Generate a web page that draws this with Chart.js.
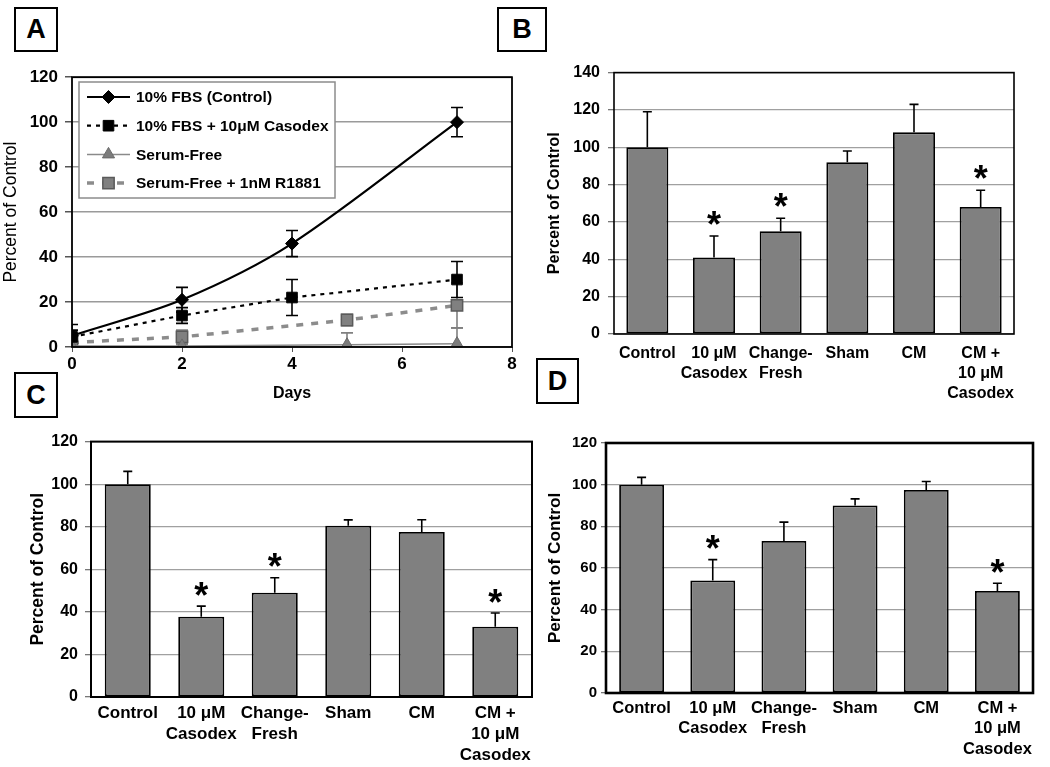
<!DOCTYPE html>
<html><head><meta charset="utf-8">
<script src="https://cdn.jsdelivr.net/npm/chart.js@4.4.1/dist/chart.umd.min.js"></script>
<style>
html,body{margin:0;padding:0;background:#fff;width:1050px;height:767px;overflow:hidden;font-family:"Liberation Sans",Arial,sans-serif}
canvas{position:absolute}
.lbl{position:absolute;z-index:3;border:2px solid #000;box-sizing:border-box;font:bold 27px "Liberation Sans",Arial,sans-serif;display:flex;align-items:center;justify-content:center;background:#fff;color:#000}
</style></head><body>
<div class="lbl" style="left:14px;top:7px;width:44px;height:45px">A</div>
<div class="lbl" style="left:497px;top:7px;width:50px;height:45px">B</div>
<div class="lbl" style="left:14px;top:372px;width:44px;height:46px">C</div>
<div class="lbl" style="left:536px;top:358px;width:43px;height:46px">D</div>
<canvas id="cA" width="530" height="350" style="left:0;top:60px"></canvas>
<canvas id="cB" width="530" height="355" style="left:520px;top:55px"></canvas>
<canvas id="cC" width="545" height="342" style="left:0;top:425px"></canvas>
<canvas id="cD" width="530" height="342" style="left:520px;top:425px"></canvas>
<script>
// ---------- Panel A data ----------
const daysMain = [0, 2, 4, 7];
const daysSF = [0, 2, 5, 7];
const ctrlA = [5, 21, 46, 100];
const ctrlAErr = [5, 5.5, 5.8, 6.5];
const casA = [4.5, 14, 22, 30];
const casAErr = [3, 3.5, 8, 8];
const sfA = [0.5, 0.5, 1, 1.5];
const sfAErr = [0.5, 0.5, 5.3, 7];
const r1881A = [2, 4.5, 12, 18.5];
const r1881AErr = [1.5, 3, 2.5, 10];
const seriesNamesA = ['10% FBS (Control)', '10% FBS + 10\u03bcM Casodex', 'Serum-Free', 'Serum-Free + 1nM R1881'];

// ---------- Bar panels ----------
const categoryLines = [['Control'], ['10 \u03bcM', 'Casodex'], ['Change-', 'Fresh'], ['Sham'], ['CM'], ['CM +', '10 \u03bcM', 'Casodex']];
const valuesB = [100, 41, 55, 92, 108, 68];
const errorsB = [19, 11.5, 7, 6, 15, 9];
const starsB = [false, true, true, false, false, true];
const valuesC = [100, 37.7, 49, 80.5, 77.5, 33];
const errorsC = [6, 5, 7, 2.7, 5.8, 6.5];
const starsC = [false, true, true, false, false, true];
const valuesD = [100, 54, 73, 90, 97.5, 49];
const errorsD = [3.5, 10, 9, 3.2, 4, 3.7];
const starsD = [false, true, false, false, false, true];

const FONT = '"Liberation Sans", Arial, sans-serif';
Chart.defaults.font.family = FONT;
Chart.defaults.color = '#000';

function pts(xs, ys) { return xs.map((x, i) => ({x: x, y: ys[i]})); }

function marker(ctx, style, r, x, y, fill, stroke, bw) {
  ctx.save();
  ctx.fillStyle = fill; ctx.strokeStyle = stroke; ctx.lineWidth = bw; ctx.setLineDash([]);
  if (Chart.helpers && Chart.helpers.drawPoint) {
    Chart.helpers.drawPoint(ctx, {pointStyle: style, radius: r, borderWidth: bw, rotation: 0}, x, y);
  } else {
    ctx.beginPath();
    if (style === 'rectRot') { ctx.moveTo(x - r, y); ctx.lineTo(x, y - r); ctx.lineTo(x + r, y); ctx.lineTo(x, y + r); }
    else if (style === 'triangle') { ctx.moveTo(x - r, y + r * 0.6); ctx.lineTo(x, y - r); ctx.lineTo(x + r, y + r * 0.6); }
    else { const s = r * Math.SQRT1_2; ctx.rect(x - s, y - s, 2 * s, 2 * s); }
    ctx.closePath(); ctx.fill(); if (bw > 0) ctx.stroke();
  }
  ctx.restore();
}

function drawErr(chart, mode, capHalf) {
  const ctx = chart.ctx, ys = chart.scales.y, ca = chart.chartArea;
  const dss = chart.data.datasets;
  for (let i = dss.length - 1; i >= 0; i--) {
    const ds = dss[i];
    if (!ds.errors) continue;
    const meta = chart.getDatasetMeta(i);
    ctx.save();
    ctx.beginPath(); ctx.rect(ca.left, ca.top - 2, ca.right - ca.left, ca.bottom - ca.top + 2); ctx.clip();
    ctx.strokeStyle = ds.errColor || '#000'; ctx.lineWidth = 1.6; ctx.setLineDash([]);
    meta.data.forEach((el, j) => {
      const raw = ds.data[j];
      const v = (typeof raw === 'object') ? raw.y : raw;
      const e = ds.errors[j];
      const x = el.x;
      const yHi = ys.getPixelForValue(v + e);
      const yLo = mode === 'both' ? ys.getPixelForValue(v - e) : ys.getPixelForValue(v);
      ctx.beginPath();
      ctx.moveTo(x, yLo); ctx.lineTo(x, yHi);
      ctx.moveTo(x - capHalf, yHi); ctx.lineTo(x + capHalf, yHi);
      if (mode === 'both') { ctx.moveTo(x - capHalf, yLo); ctx.lineTo(x + capHalf, yLo); }
      ctx.stroke();
    });
    ctx.restore();
  }
}

const deco = {
  id: 'deco',
  beforeDatasetsDraw(chart, args, o) {
    if (o.errMode === 'both') drawErr(chart, 'both', o.capHalf);
  },
  afterDatasetsDraw(chart, args, o) {
    const ctx = chart.ctx, ca = chart.chartArea, ys = chart.scales.y;
    if (o.errMode === 'up') drawErr(chart, 'up', o.capHalf);
    // asterisks
    chart.data.datasets.forEach((ds, i) => {
      if (!ds.stars) return;
      const meta = chart.getDatasetMeta(i);
      ctx.save();
      ctx.fillStyle = '#000'; ctx.font = 'bold ' + o.starSize + 'px ' + FONT;
      ctx.textAlign = 'center'; ctx.textBaseline = 'alphabetic';
      meta.data.forEach((el, j) => {
        if (!ds.stars[j]) return;
        const top = ys.getPixelForValue(ds.data[j] + ds.errors[j]);
        ctx.fillText('*', el.x, top - o.starGap + 0.6 * o.starSize);
      });
      ctx.restore();
    });
    // frame
    ctx.save();
    ctx.strokeStyle = '#000'; ctx.lineWidth = o.frame; ctx.setLineDash([]);
    ctx.strokeRect(ca.left, ca.top, ca.right - ca.left, ca.bottom - ca.top);
    ctx.restore();
    // legend (panel A)
    if (o.legend) {
      const L = o.legend;
      ctx.save();
      ctx.fillStyle = '#fff'; ctx.fillRect(L.x, L.y, L.w, L.h);
      ctx.strokeStyle = '#8c8c8c'; ctx.lineWidth = 1.5; ctx.strokeRect(L.x, L.y, L.w, L.h);
      chart.data.datasets.forEach((ds, i) => {
        const cy = L.y + L.row0 + i * L.rowH;
        ctx.save();
        ctx.strokeStyle = ds.borderColor; ctx.lineWidth = ds.borderWidth; ctx.setLineDash(ds.borderDash || []);
        ctx.beginPath(); ctx.moveTo(L.x + L.ls, cy); ctx.lineTo(L.x + L.le, cy); ctx.stroke();
        ctx.restore();
        marker(ctx, ds.pointStyle, ds.pointRadius, L.x + L.mx, cy, ds.backgroundColor, ds.pointBorderColor || ds.borderColor, ds.pointBorderWidth || 1);
        ctx.fillStyle = '#000'; ctx.font = 'bold ' + L.font + 'px ' + FONT;
        ctx.textAlign = 'left'; ctx.textBaseline = 'middle';
        ctx.fillText(ds.label, L.x + L.tx, cy + 1);
      });
      ctx.restore();
    }
  }
};
Chart.register(deco);

// ---------- Panel A ----------
new Chart(document.getElementById('cA'), {
  type: 'line',
  data: {
    datasets: [
      {label: seriesNamesA[0], data: pts(daysMain, ctrlA), errors: ctrlAErr, errColor: '#000',
       borderColor: '#000', backgroundColor: '#000', borderWidth: 2.2, pointStyle: 'rectRot', pointRadius: 6.5,
       pointBorderWidth: 1, tension: 0.3},
      {label: seriesNamesA[1], data: pts(daysMain, casA), errors: casAErr, errColor: '#000',
       borderColor: '#000', backgroundColor: '#000', borderWidth: 2.2, borderDash: [4, 5], pointStyle: 'rect', pointRadius: 7.5,
       pointBorderWidth: 1, tension: 0},
      {label: seriesNamesA[2], data: pts(daysSF, sfA), errors: sfAErr, errColor: '#808080',
       borderColor: '#8a8a8a', backgroundColor: '#7c7c7c', pointBorderColor: '#6a6a6a', borderWidth: 1.5, pointStyle: 'triangle', pointRadius: 7,
       pointBorderWidth: 1, tension: 0},
      {label: seriesNamesA[3], data: pts(daysSF, r1881A), errors: r1881AErr, errColor: '#808080',
       borderColor: '#8c8c8c', backgroundColor: '#808080', pointBorderColor: '#5a5a5a', borderWidth: 3.5, borderDash: [7, 8],
       pointStyle: 'rect', pointRadius: 8, pointBorderWidth: 1.5, tension: 0}
    ]
  },
  options: {
    responsive: false, animation: false,
    layout: {padding: {left: 0, right: 18, top: 17, bottom: 0}},
    plugins: {
      legend: {display: false}, tooltip: {enabled: false},
      deco: {errMode: 'both', capHalf: 6, frame: 1.8, starSize: 30, starGap: 19,
             legend: {x: 79, y: 22, w: 256, h: 116, row0: 15, rowH: 28.7, ls: 8, le: 51, mx: 29.5, tx: 57, font: 15.5}}
    },
    scales: {
      x: {type: 'linear', min: 0, max: 8,
          ticks: {stepSize: 2, font: {size: 17, weight: 'bold'}, padding: 2, color: '#000'},
          grid: {drawOnChartArea: false, drawTicks: true, tickLength: 5, tickColor: '#555'},
          border: {display: false},
          title: {display: true, text: 'Days', font: {size: 16, weight: 'bold'}, padding: {top: 0, bottom: 7}},
          afterFit: s => { s.height = 63; }},
      y: {min: 0, max: 120,
          ticks: {stepSize: 20, font: {size: 17, weight: 'bold'}, padding: 7, color: '#000'},
          grid: {color: '#9a9a9a', lineWidth: 1.5, tickLength: 7, tickColor: '#555'},
          border: {display: false},
          title: {display: true, text: 'Percent of Control', font: {size: 17.5, weight: 'normal'}, padding: {top: 0.5, bottom: 0}},
          afterFit: s => { s.width = 72; }}
    }
  }
});

// ---------- Bar panels ----------
function barChart(id, values, errors, stars, o) {
  return new Chart(document.getElementById(id), {
    type: 'bar',
    data: {
      labels: categoryLines,
      datasets: [{data: values, errors: errors, stars: stars, backgroundColor: '#808080', borderColor: '#000',
                  borderWidth: 1.8, borderSkipped: false, barPercentage: o.bp, categoryPercentage: 1}]
    },
    options: {
      responsive: false, animation: false,
      layout: {padding: o.pad},
      plugins: {legend: {display: false}, tooltip: {enabled: false},
                deco: {errMode: 'up', capHalf: 4.5, frame: o.frame, starSize: 36, starGap: o.starGap}},
      scales: {
        x: {grid: {display: false, drawTicks: false}, border: {display: false},
            ticks: {font: {size: o.xf, weight: 'bold', lineHeight: o.xlh}, padding: o.xpad, color: '#000', maxRotation: 0, autoSkip: false},
            afterFit: s => { s.height = o.xh; }},
        y: {min: 0, max: o.ymax,
            ticks: {stepSize: 20, font: {size: o.yf, weight: 'bold'}, padding: o.ypad, color: '#000'},
            grid: {color: '#a0a0a0', lineWidth: 1.3, tickLength: o.tl, tickColor: '#777'},
            border: {display: false},
            title: {display: true, text: 'Percent of Control', font: {size: o.tf, weight: 'bold'}, padding: {top: o.tpad, bottom: 0}},
            afterFit: s => { s.width = o.yw; }}
      }
    }
  });
}

barChart('cB', valuesB, errorsB, starsB, {
  bp: 0.63, pad: {left: 0, right: 36, top: 17, bottom: 0}, frame: 1.6, starGap: 21,
  xf: 16, xlh: 1.25, xpad: 10, xh: 76, ymax: 140, yf: 16, ypad: 8, tl: 6, tf: 16.3, tpad: 25, yw: 94
});
barChart('cC', valuesC, errorsC, starsC, {
  bp: 0.626, pad: {left: 0, right: 13, top: 12, bottom: 0}, frame: 2, starGap: 20,
  xf: 17, xlh: 1.25, xpad: 5.4, xh: 70, ymax: 120, yf: 16, ypad: 7, tl: 6, tf: 17.5, tpad: 27.5, yw: 91
});
barChart('cD', valuesD, errorsD, starsD, {
  bp: 0.63, pad: {left: 0, right: 17, top: 18, bottom: 0}, frame: 2.6, starGap: 20,
  xf: 16.5, xlh: 1.27, xpad: 4.5, xh: 74, ymax: 120, yf: 15, ypad: 4, tl: 5, tf: 17.3, tpad: 24.5, yw: 86
});
</script>
</body></html>
